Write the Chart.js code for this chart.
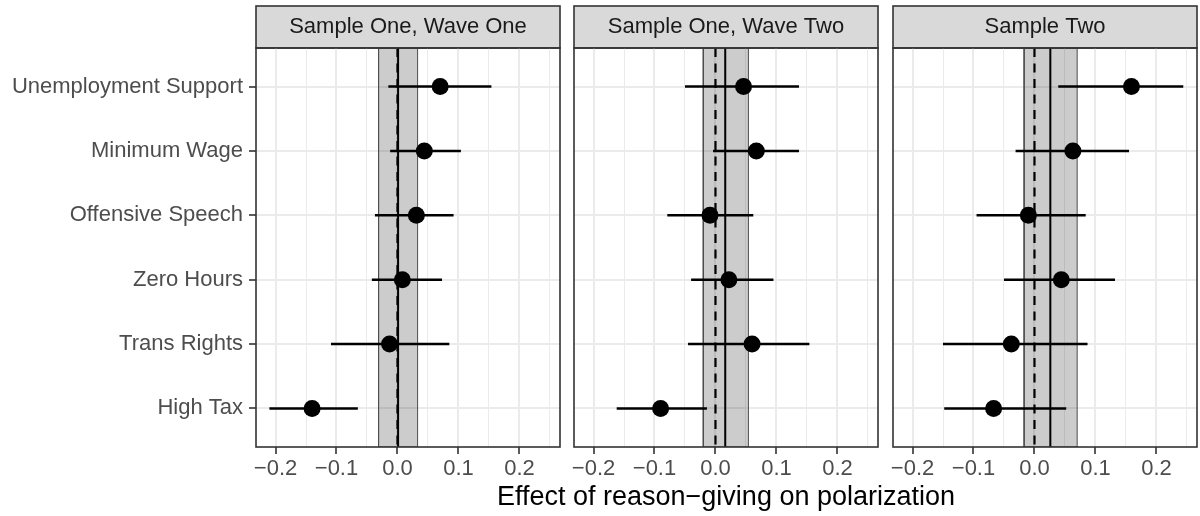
<!DOCTYPE html>
<html><head><meta charset="utf-8">
<script src="https://cdn.jsdelivr.net/npm/chart.js@4.4.1/dist/chart.umd.min.js"></script>
<style>
html,body{margin:0;padding:0;background:#fff;width:1200px;height:516px;overflow:hidden;}
canvas{position:absolute;top:0;}
#xtitle{position:absolute;left:326px;width:800px;top:480px;height:32px;line-height:32px;text-align:center;
  font-family:'Liberation Sans', Arial, Helvetica, sans-serif;font-size:27px;color:#000;white-space:nowrap;}
</style></head><body>
<canvas id="c1" width="562" height="516" style="left:0px"></canvas>
<canvas id="c2" width="308" height="516" style="left:572px"></canvas>
<canvas id="c3" width="308" height="516" style="left:891px"></canvas>
<div id="xtitle"></div>
<script>
// ---- data ----
const categories = ['Unemployment Support','Minimum Wage','Offensive Speech','Zero Hours','Trans Rights','High Tax'];
const panelTitles = ['Sample One, Wave One','Sample One, Wave Two','Sample Two'];
const xTitle = 'Effect of reason\u2212giving on polarization';
const xTickValues = [-0.2, -0.1, 0, 0.1, 0.2];
const xTickLabels = ['\u22120.2', '\u22120.1', '0.0', '0.1', '0.2'];
const xMinorValues = [-0.15, -0.05, 0.05, 0.15, 0.25];

const est1 = [0.070, 0.044, 0.031, 0.008, -0.013, -0.140];
const lo1  = [-0.015, -0.012, -0.037, -0.042, -0.109, -0.210];
const hi1  = [0.154, 0.104, 0.092, 0.073, 0.085, -0.065];

const est2 = [0.046, 0.067, -0.009, 0.022, 0.060, -0.090];
const lo2  = [-0.050, -0.004, -0.079, -0.040, -0.045, -0.162];
const hi2  = [0.137, 0.137, 0.062, 0.095, 0.154, -0.014];

const est3 = [0.159, 0.063, -0.010, 0.044, -0.038, -0.067];
const lo3  = [0.039, -0.031, -0.095, -0.050, -0.150, -0.148];
const hi3  = [0.244, 0.155, 0.084, 0.132, 0.087, 0.052];

const bandLow  = [-0.031, -0.020, -0.017];
const bandHigh = [0.033, 0.054, 0.070];
const meanEffect = [0.001, 0.016, 0.026];
const referenceLine = 0;

// ---- axis ranges ----
const xMin = -0.232, xMax = 0.2665;
const yMin = 0.4, yMax = categories.length + 0.6;

document.getElementById('xtitle').textContent = xTitle;

Chart.defaults.font.family = "'Liberation Sans', Arial, Helvetica, sans-serif";
const FS = 22;

const xGridValues = xTickValues.concat(xMinorValues).sort((a,b)=>a-b);
function majorIndex(v){ return xTickValues.findIndex(t => Math.abs(t - v) < 1e-9); }

const panelDecor = {
  id: 'panelDecor',
  beforeDraw(chart){
    const ctx = chart.ctx, a = chart.chartArea, t = chart.titleBlock;
    ctx.save();
    ctx.fillStyle = '#D9D9D9';
    ctx.fillRect(a.left, t.top, a.right - a.left, t.bottom - t.top);
    ctx.strokeStyle = '#333333';
    ctx.lineWidth = 1.6;
    ctx.strokeRect(a.left, t.top, a.right - a.left, t.bottom - t.top);
    ctx.restore();
  },
  afterDraw(chart){
    const ctx = chart.ctx, a = chart.chartArea;
    ctx.save();
    ctx.strokeStyle = '#333333';
    ctx.lineWidth = 1.6;
    ctx.strokeRect(a.left, a.top, a.right - a.left, a.bottom - a.top);
    ctx.restore();
  }
};

function makeChart(id, k, est, lo, hi, showY, padL, padR){
  const ds = [];
  ds.push({label:'estimate', data: est.map((v,i)=>({x:v, y:i+1})), showLine:false,
    pointRadius:8.5, pointHoverRadius:8.5, pointBackgroundColor:'#000', pointBorderWidth:0, order:0});
  lo.forEach((l,i)=>{
    ds.push({label:'ci'+i, data:[{x:l, y:i+1},{x:hi[i], y:i+1}], borderColor:'#000', borderWidth:2.5,
      pointRadius:0, pointHoverRadius:0, fill:false, order:1});
  });
  ds.push({label:'mean', data:[{x:meanEffect[k], y:yMin},{x:meanEffect[k], y:yMax}], borderColor:'#000',
    borderWidth:2, pointRadius:0, pointHoverRadius:0, fill:false, order:2});
  ds.push({label:'ref', data:[{x:referenceLine, y:yMin},{x:referenceLine, y:yMax}], borderColor:'#000',
    borderWidth:2.2, borderDash:[9,6.5], pointRadius:0, pointHoverRadius:0, fill:false, order:3});
  ds.push({label:'band', data:[{x:bandLow[k], y:yMin},{x:bandLow[k], y:yMax},{x:bandHigh[k], y:yMax},{x:bandHigh[k], y:yMin}],
    fill:'shape', backgroundColor:'rgba(0,0,0,0.2)', borderColor:'#4d4d4d', borderWidth:1,
    pointRadius:0, pointHoverRadius:0, order:4});

  return new Chart(document.getElementById(id), {
    type: 'line',
    data: { datasets: ds },
    plugins: [panelDecor],
    options: {
      responsive:false, animation:false, events:[],
      layout: { autoPadding:false, padding: { left: padL, right: padR, top: 6, bottom: 0 } },
      plugins: {
        legend: { display:false },
        tooltip: { enabled:false },
        title: { display:true, text: panelTitles[k], fullSize:false, color:'#1A1A1A',
          font:{ size:FS, weight:'normal', lineHeight:1.2 }, padding:{ top:7.8, bottom:7.8 } }
      },
      scales: {
        x: {
          type:'linear', min:xMin, max:xMax,
          afterBuildTicks: s => { s.ticks = xGridValues.map(v => ({value:v})); },
          afterFit: s => { s.height = 69; s.paddingLeft = 0; s.paddingRight = 0; },
          ticks: { autoSkip:false, maxRotation:0, minRotation:0, padding:2, color:'#4D4D4D',
            font:{ size:FS },
            callback: v => { const i = majorIndex(v); return i >= 0 ? xTickLabels[i] : ''; } },
          grid: { color:'#EBEBEB', lineWidth: c => (c.tick && majorIndex(c.tick.value) >= 0) ? 2 : 1,
            tickLength:7, tickWidth:1.6,
            tickColor: c => (c.tick && majorIndex(c.tick.value) >= 0) ? '#333333' : 'rgba(0,0,0,0)' },
          border: { display:false },
          title: { display:false }
        },
        y: {
          type:'linear', reverse:true, min:yMin, max:yMax,
          afterBuildTicks: s => { s.ticks = categories.map((c,i) => ({value:i+1})); },
          afterFit: s => { s.width = showY ? 256 : 0; s.paddingTop = 0; s.paddingBottom = 0; },
          ticks: { display: showY, padding:6, color:'#4D4D4D', font:{ size:FS }, autoSkip:false,
            callback: v => categories[Math.round(v) - 1] },
          grid: { color:'#EBEBEB', lineWidth:2, tickLength:7, tickWidth:1.6, tickColor:'#333333', drawTicks: showY },
          border: { display:false }
        }
      }
    }
  });
}

makeChart('c1', 0, est1, lo1, hi1, true, 0, 2);
makeChart('c2', 1, est2, lo2, hi2, false, 2, 2);
makeChart('c3', 2, est3, lo3, hi3, false, 2, 2);
</script>
</body></html>
